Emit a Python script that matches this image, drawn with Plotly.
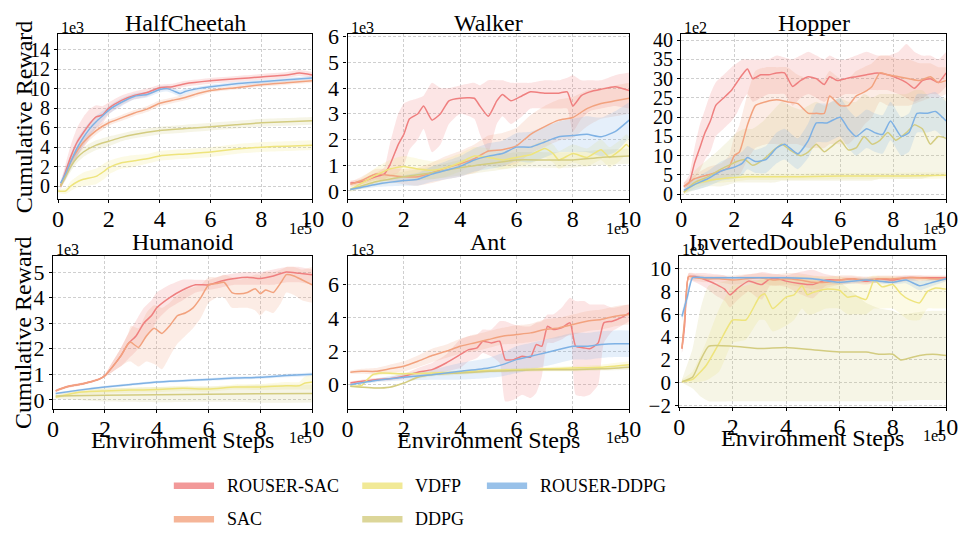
import plotly.graph_objects as go

W, H = 968, 537
FONT = "Liberation Serif"

METHODS = ["ROUSER-SAC", "SAC", "VDFP", "DDPG", "ROUSER-DDPG"]
LINE_COLORS = {"ROUSER-SAC": (239, 127, 127), "SAC": (242, 162, 126), "VDFP": (238, 228, 124),
               "DDPG": (211, 204, 128), "ROUSER-DDPG": (126, 177, 228)}

TITLES = ["HalfCheetah", "Walker", "Hopper", "Humanoid", "Ant", "InvertedDoublePendulum"]
Y_SCALE = ["1e3", "1e3", "1e2", "1e3", "1e3", "1e3"]
X_TICKS = [0, 2, 4, 6, 8, 10]
Y_TICKS = [[0, 2, 4, 6, 8, 10, 12, 14], [0, 1, 2, 3, 4, 5, 6], [0, 5, 10, 15, 20, 25, 30, 35, 40],
           [0, 1, 2, 3, 4, 5], [0, 2, 4, 6], [-2, 0, 2, 4, 6, 8, 10]]

# ---------------- HalfCheetah (x: 1e5 steps, y: 1e3) ----------------
hc_rsac_x = [0.1, 0.3, 0.5, 0.75, 1, 1.25, 1.5, 1.75, 2, 2.5, 3, 3.5, 4, 4.5, 5, 6, 7, 8, 9, 9.5, 10]
hc_rsac_y = [0, 1.5, 3.0, 4.5, 5.5, 6.4, 7.1, 7.3, 8.0, 8.8, 9.3, 9.6, 10.1, 10.2, 10.5, 10.8, 11.0, 11.2, 11.4, 11.6, 11.4]
hc_rsac_hw = [0.3, 0.8, 1.2, 1.5, 1.6, 1.5, 1.2, 0.9, 0.6, 0.5, 0.4, 0.4, 0.3, 0.3, 0.3, 0.3, 0.3, 0.3, 0.3, 0.3, 0.3]
hc_sac_x = [0.1, 0.3, 0.5, 0.75, 1, 1.5, 2, 2.5, 3, 3.5, 4, 4.5, 5, 5.5, 6, 7, 8, 9, 10]
hc_sac_y = [0, 1.2, 2.5, 3.6, 4.5, 5.7, 6.5, 7.0, 7.5, 7.9, 8.5, 8.8, 9.1, 9.5, 9.8, 10.1, 10.4, 10.6, 10.8]
hc_sac_hw = [0.3, 0.5, 0.5, 0.5, 0.4, 0.4, 0.3, 0.3, 0.3, 0.3, 0.3, 0.3, 0.3, 0.3, 0.2, 0.2, 0.2, 0.2, 0.2]
hc_vdfp_x = [0, 0.3, 0.5, 0.8, 1, 1.5, 1.8, 2, 2.5, 3, 3.5, 4, 5, 6, 7, 8, 9, 10]
hc_vdfp_y = [-0.5, -0.5, 0, 0.5, 0.7, 1.0, 1.5, 1.9, 2.4, 2.6, 2.8, 3.1, 3.3, 3.5, 3.8, 4.0, 4.1, 4.2]
hc_vdfp_hw = [0.2, 0.3, 0.5, 0.6, 0.7, 0.8, 0.8, 0.7, 0.6, 0.6, 0.5, 0.5, 0.5, 0.5, 0.5, 0.5, 0.5, 0.5]
hc_ddpg_x = [0.1, 0.3, 0.5, 0.75, 1, 1.5, 2, 2.5, 3, 4, 5, 6, 7, 8, 9, 10]
hc_ddpg_y = [0, 1.0, 2.0, 2.9, 3.5, 4.2, 4.6, 5.0, 5.3, 5.7, 5.9, 6.1, 6.3, 6.5, 6.6, 6.7]
hc_ddpg_hw = [0.2, 0.4, 0.5, 0.5, 0.5, 0.5, 0.5, 0.4, 0.4, 0.4, 0.4, 0.4, 0.4, 0.4, 0.4, 0.4]
hc_rddpg_x = [0.1, 0.3, 0.5, 0.75, 1, 1.25, 1.5, 1.75, 2, 2.5, 3, 3.5, 4, 4.3, 4.6, 4.8, 5, 5.5, 6, 7, 8, 9, 10]
hc_rddpg_y = [0.3, 1.3, 2.5, 3.9, 5.0, 5.9, 6.6, 7.2, 7.8, 8.6, 9.2, 9.4, 9.9, 10.0, 9.7, 9.5, 9.7, 10.0, 10.2, 10.5, 10.7, 10.9, 11.1]
hc_rddpg_hw = [0.3, 0.6, 0.8, 0.9, 0.8, 0.7, 0.6, 0.5, 0.4, 0.4, 0.3, 0.3, 0.3, 0.3, 0.3, 0.3, 0.3, 0.2, 0.2, 0.2, 0.2, 0.2, 0.2]

# ---------------- Walker (y: 1e3) ----------------
wk_rsac_x = [0.1, 0.5, 1, 1.3, 1.5, 1.8, 2, 2.2, 2.5, 2.7, 3, 3.3, 3.6, 4, 4.5, 4.7, 5, 5.3, 5.5, 5.8, 6.2, 6.5, 7, 7.5, 7.8, 8, 8.3, 8.6, 9, 9.5, 10]
wk_rsac_y = [0.3, 0.35, 0.55, 0.65, 1.0, 1.8, 2.2, 2.8, 3.0, 3.3, 2.75, 3.0, 3.5, 3.6, 3.6, 3.3, 2.9, 3.5, 3.75, 3.5, 3.7, 3.85, 3.8, 3.8, 3.85, 3.3, 3.7, 3.85, 3.95, 4.05, 3.9]
wk_rsac_lo = [0.2, 0.25, 0.4, 0.45, 0.55, 0.7, 1.0, 1.6, 2.0, 2.4, 1.5, 1.8, 2.6, 3.0, 2.8, 2.2, 1.5, 2.6, 2.9, 2.6, 2.9, 3.2, 3.2, 3.2, 3.2, 2.3, 2.8, 3.1, 3.2, 3.3, 3.2]
wk_rsac_hi = [0.4, 0.45, 0.7, 0.9, 1.8, 3.0, 3.4, 3.5, 3.6, 3.7, 4.2, 4.0, 4.0, 4.1, 4.2, 4.1, 4.3, 4.3, 4.3, 4.2, 4.2, 4.2, 4.3, 4.3, 4.4, 4.5, 4.3, 4.3, 4.3, 4.5, 4.6]
wk_sac_x = [0.1, 0.5, 1, 1.5, 2, 2.5, 3, 3.5, 4, 4.5, 5, 5.5, 6, 6.5, 7, 7.5, 8, 8.5, 9, 9.5, 10]
wk_sac_y = [0.25, 0.4, 0.65, 0.6, 0.55, 0.55, 0.7, 0.9, 1.05, 1.25, 1.55, 1.6, 1.75, 2.2, 2.5, 2.75, 2.85, 3.2, 3.4, 3.5, 3.6]
wk_sac_hw = [0.1, 0.15, 0.2, 0.25, 0.3, 0.35, 0.4, 0.45, 0.5, 0.55, 0.6, 0.65, 0.7, 0.75, 0.8, 0.8, 0.8, 0.7, 0.6, 0.6, 0.6]
wk_vdfp_x = [0.1, 0.5, 1, 1.5, 2, 2.5, 3, 3.5, 4, 4.5, 5, 5.5, 6, 6.5, 7, 7.3, 7.5, 8, 8.5, 9, 9.3, 9.7, 9.9, 10]
wk_vdfp_y = [0.05, 0.3, 0.6, 0.85, 0.95, 0.85, 0.8, 0.9, 1.1, 1.35, 1.3, 1.2, 1.3, 1.4, 1.65, 1.45, 1.2, 1.45, 1.3, 1.6, 1.3, 1.6, 1.8, 1.7]
wk_vdfp_hw = [0.1, 0.2, 0.3, 0.35, 0.4, 0.4, 0.35, 0.35, 0.35, 0.35, 0.35, 0.35, 0.35, 0.35, 0.35, 0.35, 0.35, 0.35, 0.35, 0.4, 0.4, 0.4, 0.4, 0.4]
wk_ddpg_x = [0.1, 1, 2, 3, 4, 5, 6, 7, 8, 9, 10]
wk_ddpg_y = [0.05, 0.35, 0.55, 0.7, 0.9, 1.05, 1.2, 1.2, 1.2, 1.3, 1.35]
wk_ddpg_hw = [0.05, 0.15, 0.2, 0.25, 0.3, 0.3, 0.3, 0.3, 0.3, 0.3, 0.3]
wk_rddpg_x = [0.1, 1, 2, 2.5, 3, 3.5, 4, 4.5, 5, 5.5, 6, 6.5, 7, 7.5, 8, 8.5, 9, 9.5, 10]
wk_rddpg_y = [0.05, 0.25, 0.4, 0.45, 0.65, 0.8, 0.95, 1.2, 1.35, 1.45, 1.7, 1.7, 1.9, 2.1, 2.15, 2.2, 2.1, 2.3, 2.75]
wk_rddpg_hw = [0.05, 0.1, 0.2, 0.25, 0.3, 0.35, 0.4, 0.45, 0.5, 0.5, 0.55, 0.6, 0.6, 0.6, 0.65, 0.7, 0.75, 0.8, 0.7]

# ---------------- Hopper (y: 1e2) ----------------
hp_rsac_x = [0.1, 0.3, 0.5, 0.7, 0.9, 1.1, 1.3, 1.6, 1.9, 2.1, 2.3, 2.5, 2.7, 3.0, 3.3, 3.6, 3.9, 4.2, 4.5, 4.8, 5.1, 5.4, 5.6, 5.9, 6.2, 6.6, 7, 7.4, 7.8, 8.2, 8.5, 8.8, 9.1, 9.4, 9.7, 10]
hp_rsac_y = [2, 3, 8, 12, 16, 19, 23, 25, 27, 29, 31, 32.5, 30, 31, 31, 31.5, 31.5, 28, 29.5, 30.5, 30, 28.5, 30.5, 29.5, 30, 30.5, 31, 31.5, 31, 30, 29, 27.5, 29.5, 30, 29, 31.5]
hp_rsac_lo = [1.5, 2, 4, 6, 9, 11, 15, 17, 19, 21, 24, 26, 24, 25, 26, 26, 26, 23, 25, 26, 25, 24, 25, 25, 26, 26, 27, 27, 27, 26, 25, 24, 25, 26, 26, 28]
hp_rsac_hi = [3, 5, 12, 18, 22, 26, 29, 31, 33, 34, 35, 35, 35, 35, 35, 36, 35.5, 35, 36, 37, 36, 35, 36, 35, 35, 36, 37, 36, 36, 37, 39, 37, 36, 36, 35, 37]
hp_sac_x = [0.1, 0.5, 1, 1.5, 1.8, 2, 2.2, 2.5, 2.8, 3.2, 3.6, 4, 4.4, 4.8, 5.1, 5.4, 5.6, 6, 6.3, 6.6, 6.9, 7.2, 7.5, 7.8, 8.2, 8.6, 9, 9.4, 9.7, 10]
hp_sac_y = [2, 4, 5, 6, 7, 10, 11, 18, 23, 24, 24.5, 24, 23.5, 21, 21, 21, 25.5, 23, 23, 25.5, 26.5, 28, 31.5, 31, 30.5, 30, 29.5, 30.5, 29, 29.5]
hp_sac_lo = [1.5, 2.5, 3, 4, 4, 5, 5, 9, 12, 13, 13, 13, 13, 12, 12, 12, 13, 13, 13, 15, 18, 20, 24, 23, 23, 23, 24, 25, 25, 26]
hp_sac_hi = [3, 5, 7, 8, 10, 15, 18, 26, 32, 33, 33, 33, 31, 30, 30, 30, 32, 30, 30, 32, 33, 34, 36, 36, 35, 35, 34, 34, 33, 33]
hp_vdfp_x = [0.1, 0.5, 1, 1.5, 2, 2.5, 3, 4, 5, 6, 7, 8, 9, 10]
hp_vdfp_y = [0.5, 2.5, 3.5, 4, 4.3, 4.5, 4.5, 4.5, 4.6, 4.7, 4.7, 4.7, 4.8, 4.9]
hp_vdfp_hw = [0.5, 1, 1, 1, 1, 0.8, 0.8, 0.8, 0.8, 0.8, 0.8, 0.8, 0.8, 0.8]
hp_ddpg_x = [0.1, 0.5, 1, 1.5, 1.8, 2.1, 2.4, 2.7, 3.1, 3.5, 3.8, 4.1, 4.5, 4.8, 5.1, 5.4, 5.7, 6, 6.3, 6.6, 6.9, 7.2, 7.5, 7.8, 8.1, 8.5, 8.8, 9.1, 9.4, 9.7, 10]
hp_ddpg_y = [0.5, 3, 4.5, 6.5, 7.5, 8.5, 9, 7.5, 9, 11.5, 13, 11.5, 10, 11, 13, 11, 12.5, 14, 11.5, 12, 15, 13, 14, 16, 14, 16, 18, 17, 13, 15, 14.5]
hp_ddpg_lo = [0, 1, 2, 2, 2.5, 3, 3, 3, 3, 3, 3.5, 3.5, 3.5, 3.5, 3.5, 3.5, 3.5, 3.5, 3.5, 3.5, 3.5, 3.5, 4, 4, 4, 4, 4, 4, 4.5, 5, 5]
hp_ddpg_hi = [1, 6, 9, 12, 14, 16, 17, 17, 19, 22, 24, 23, 22, 23, 24, 23, 24, 25, 24, 24, 26, 25, 26, 26, 26, 26, 27, 27, 25, 25, 25]
hp_rddpg_x = [0.1, 0.5, 1, 1.5, 2, 2.3, 2.5, 2.8, 3.2, 3.6, 3.9, 4.4, 4.8, 5.1, 5.5, 6, 6.3, 6.6, 7, 7.3, 7.6, 7.9, 8.3, 8.6, 8.9, 9.3, 9.6, 10]
hp_rddpg_y = [1, 2.5, 4, 6, 7, 8, 9.5, 8.5, 9, 12, 13, 10.5, 14, 18.5, 18.5, 20, 17, 15, 17, 16, 15.5, 19, 15, 16, 21, 21, 21.5, 19]
hp_rddpg_hw = [0.5, 1.5, 2, 2.5, 3, 3, 3, 3, 3.5, 4, 4, 4, 4.5, 5, 5, 5, 5, 5, 5, 5, 5, 5, 5, 5, 5, 5, 5, 5]

# ---------------- Humanoid (y: 1e3) ----------------
hu_rsac_x = [0.1, 0.5, 1, 1.5, 1.8, 2, 2.3, 2.6, 2.9, 3.2, 3.5, 3.8, 4, 4.5, 5, 5.5, 6, 6.5, 7, 7.5, 8, 8.5, 9, 9.5, 10]
hu_rsac_y = [0.35, 0.5, 0.6, 0.72, 0.82, 0.95, 1.3, 1.7, 2.2, 2.5, 3.0, 3.3, 3.6, 4.0, 4.3, 4.5, 4.5, 4.65, 4.75, 4.8, 4.75, 4.85, 5.0, 4.95, 4.9]
hu_rsac_lo = [0.3, 0.45, 0.55, 0.68, 0.78, 0.9, 1.1, 1.3, 1.6, 1.9, 2.3, 2.7, 3.1, 3.6, 3.9, 4.2, 4.3, 4.4, 4.5, 4.5, 4.5, 4.5, 4.6, 4.6, 4.5]
hu_rsac_hi = [0.4, 0.55, 0.65, 0.76, 0.86, 1.0, 1.5, 2.0, 2.6, 3.1, 3.6, 3.9, 4.2, 4.5, 4.7, 4.7, 4.7, 4.85, 4.95, 5.0, 5.0, 5.1, 5.2, 5.2, 5.1]
hu_sac_x = [0.1, 0.5, 1, 1.5, 1.8, 2, 2.3, 2.6, 2.9, 3.0, 3.3, 3.6, 3.9, 4.2, 4.5, 4.8, 5.1, 5.4, 5.7, 6, 6.3, 6.6, 6.9, 7.2, 7.5, 7.8, 8, 8.2, 8.5, 8.8, 9, 9.3, 9.6, 10]
hu_sac_y = [0.35, 0.5, 0.6, 0.72, 0.82, 0.95, 1.3, 1.7, 2.2, 2.25, 2.05, 2.5, 2.8, 2.6, 2.9, 3.3, 3.4, 3.6, 4.0, 4.5, 4.55, 4.6, 4.2, 4.15, 4.2, 4.35, 4.15, 4.3, 4.2, 4.6, 4.9, 4.85, 4.7, 4.5]
hu_sac_lo = [0.3, 0.45, 0.55, 0.68, 0.78, 0.9, 1.1, 1.3, 1.5, 1.5, 1.3, 1.5, 1.4, 1.2, 1.7, 2.2, 2.5, 2.8, 3.2, 3.8, 4.0, 4.0, 3.6, 3.6, 3.6, 3.5, 3.3, 3.5, 3.4, 3.8, 4.2, 4.1, 3.9, 3.8]
hu_sac_hi = [0.4, 0.55, 0.65, 0.76, 0.86, 1.0, 1.5, 2.0, 2.6, 2.9, 2.8, 3.4, 3.7, 3.6, 3.8, 4.1, 4.3, 4.4, 4.5, 4.8, 4.8, 4.9, 4.8, 4.7, 4.8, 4.9, 4.9, 5.0, 5.0, 5.1, 5.2, 5.2, 5.1, 5.2]
hu_vdfp_x = [0.1, 1, 2, 3, 4, 5, 6, 7, 8, 9, 9.5, 9.7, 10]
hu_vdfp_y = [0.1, 0.3, 0.35, 0.38, 0.4, 0.45, 0.42, 0.5, 0.5, 0.55, 0.55, 0.65, 0.7]
hu_vdfp_hw = [0.05, 0.1, 0.1, 0.1, 0.1, 0.1, 0.1, 0.1, 0.12, 0.15, 0.15, 0.25, 0.3]
hu_ddpg_x = [0.1, 2, 4, 6, 8, 10]
hu_ddpg_y = [0.15, 0.18, 0.2, 0.22, 0.24, 0.25]
hu_ddpg_hw = [0.1, 0.25, 0.3, 0.3, 0.35, 0.35]
hu_rddpg_x = [0.1, 1, 2, 3, 4, 5, 6, 7, 8, 9, 10]
hu_rddpg_y = [0.25, 0.38, 0.5, 0.6, 0.7, 0.75, 0.8, 0.85, 0.88, 0.95, 1.0]
hu_rddpg_hw = [0.03, 0.04, 0.05, 0.05, 0.05, 0.05, 0.05, 0.06, 0.06, 0.07, 0.07]

# ---------------- Ant (y: 1e3) ----------------
an_rsac_x = [0.1, 0.5, 1, 1.5, 2, 2.5, 3, 3.5, 4, 4.3, 4.6, 4.8, 5.1, 5.4, 5.6, 5.9, 6.2, 6.5, 6.7, 6.9, 7.1, 7.3, 7.6, 7.9, 8.1, 8.4, 8.6, 8.9, 9.1, 9.4, 9.7, 10]
an_rsac_y = [0.1, 0.2, 0.3, 0.35, 0.5, 0.75, 0.9, 1.3, 1.8, 2.1, 2.2, 2.6, 2.5, 2.6, 1.5, 1.5, 1.7, 1.65, 2.4, 2.3, 3.5, 3.3, 3.4, 3.7, 2.3, 2.2, 2.15, 2.5, 3.7, 3.8, 4.0, 4.3]
an_rsac_lo = [0.0, 0.1, 0.2, 0.25, 0.35, 0.5, 0.6, 0.8, 1.0, 1.4, 1.6, 1.9, 1.7, 1.3, -1.0, -0.9, -0.6, -0.8, -0.5, 0.5, 2.5, 2.5, 2.7, 3.0, -0.6, -0.7, -0.6, 0.0, 2.5, 3.2, 3.5, 3.8]
an_rsac_hi = [0.2, 0.3, 0.4, 0.45, 0.65, 1.0, 1.3, 1.8, 2.7, 2.9, 3.0, 3.3, 3.3, 3.8, 3.8, 3.6, 3.5, 3.5, 3.7, 3.8, 4.2, 4.2, 4.6, 5.2, 5.0, 5.0, 4.8, 4.8, 4.8, 4.6, 4.7, 4.8]
an_sac_x = [0.1, 0.5, 1, 1.5, 2, 2.5, 3, 3.5, 4, 4.5, 5, 5.5, 6, 6.5, 7, 7.5, 8, 8.5, 9, 9.5, 10]
an_sac_y = [0.75, 0.8, 0.8, 0.95, 1.1, 1.4, 1.75, 2.0, 2.3, 2.5, 2.7, 2.9, 3.0, 3.1, 3.3, 3.4, 3.6, 3.8, 3.9, 4.1, 4.2]
an_sac_hw = [0.1, 0.15, 0.2, 0.25, 0.3, 0.35, 0.4, 0.4, 0.45, 0.5, 0.5, 0.5, 0.55, 0.55, 0.6, 0.6, 0.6, 0.6, 0.6, 0.6, 0.6]
an_vdfp_x = [0.1, 0.5, 0.7, 0.9, 1.2, 2, 3, 4, 5, 6, 7, 8, 9, 10]
an_vdfp_y = [-0.1, -0.05, 0.3, 0.6, 0.7, 0.65, 0.7, 0.75, 0.85, 0.9, 0.95, 1.0, 1.05, 1.2]
an_vdfp_hw = [0.05, 0.05, 0.1, 0.1, 0.1, 0.1, 0.1, 0.1, 0.1, 0.1, 0.1, 0.12, 0.15, 0.2]
an_ddpg_x = [0.1, 0.5, 1, 1.5, 2, 2.5, 3, 4, 5, 6, 7, 8, 9, 10]
an_ddpg_y = [-0.1, -0.15, -0.2, -0.15, 0.1, 0.45, 0.6, 0.7, 0.8, 0.85, 0.9, 0.9, 0.95, 1.05]
an_ddpg_hw = [0.05, 0.05, 0.05, 0.05, 0.05, 0.1, 0.1, 0.1, 0.1, 0.1, 0.1, 0.1, 0.1, 0.15]
an_rddpg_x = [0.1, 1, 2, 3, 4, 5, 5.5, 6, 6.5, 7, 7.5, 8, 8.5, 9, 9.5, 10]
an_rddpg_y = [0.0, 0.25, 0.45, 0.6, 0.8, 1.0, 1.2, 1.5, 1.7, 1.9, 2.1, 2.3, 2.3, 2.4, 2.45, 2.45]
an_rddpg_hw = [0.05, 0.1, 0.2, 0.3, 0.5, 0.6, 0.7, 0.8, 0.8, 0.8, 0.8, 0.8, 0.8, 0.8, 0.8, 0.8]

# ---------------- InvertedDoublePendulum (y: 1e3) ----------------
ip_rsac_x = [0.1, 0.2, 0.35, 0.6, 1, 1.4, 1.7, 1.9, 2.2, 2.6, 2.9, 3.1, 3.4, 3.7, 4, 4.5, 5, 5.5, 6, 6.5, 7, 7.5, 8, 8.5, 9, 9.5, 10]
ip_rsac_y = [3.0, 5.0, 9.3, 9.3, 9.0, 8.6, 8.2, 7.7, 8.3, 8.9, 8.7, 8.6, 9.1, 9.1, 8.9, 8.7, 8.6, 9.0, 9.0, 9.1, 8.9, 9.1, 9.0, 9.2, 9.2, 9.2, 9.2]
ip_rsac_lo = [2.6, 4.0, 9.0, 8.8, 8.3, 7.6, 7.2, 6.6, 7.3, 8.0, 7.5, 7.3, 8.5, 8.5, 8.4, 7.8, 7.4, 8.5, 8.6, 8.7, 8.6, 8.8, 8.7, 8.9, 8.9, 9.0, 9.0]
ip_rsac_hi = [3.4, 6.0, 9.6, 9.6, 9.6, 9.5, 9.4, 9.2, 9.3, 9.5, 9.6, 9.7, 9.6, 9.5, 9.4, 9.7, 9.9, 9.5, 9.3, 9.3, 9.2, 9.3, 9.3, 9.4, 9.4, 9.4, 9.4]
ip_sac_x = [0.1, 0.2, 0.35, 0.6, 1, 1.5, 2, 2.5, 3, 3.5, 4, 4.5, 5, 5.5, 6, 6.5, 7, 7.5, 8, 8.5, 9, 9.5, 10]
ip_sac_y = [3.0, 5.5, 9.3, 9.2, 9.1, 9.1, 9.0, 9.1, 9.2, 9.0, 9.1, 9.0, 8.8, 8.8, 9.0, 9.1, 9.0, 9.1, 9.1, 9.2, 9.2, 9.1, 9.1]
ip_sac_hw = [0.4, 0.8, 0.3, 0.3, 0.3, 0.3, 0.4, 0.4, 0.4, 0.5, 0.5, 0.6, 0.6, 0.5, 0.4, 0.3, 0.3, 0.3, 0.3, 0.2, 0.2, 0.2, 0.2]
ip_vdfp_x = [0.1, 0.5, 1, 1.5, 2, 2.5, 3, 3.2, 3.5, 4, 4.3, 4.6, 4.8, 5, 5.5, 6, 6.3, 6.6, 7, 7.3, 7.6, 8, 8.3, 8.6, 9, 9.3, 9.6, 10]
ip_vdfp_y = [0.1, 0.3, 1.5, 3.5, 5.5, 5.5, 7.5, 7.8, 6.5, 7.5, 7.7, 8.5, 7.7, 7.9, 8.2, 8.1, 7.5, 7.6, 7.3, 9.0, 8.4, 8.6, 7.8, 7.3, 7.0, 8.0, 8.3, 8.2]
ip_vdfp_lo = [0.0, 0.0, 0.2, 1.0, 3.5, 3.8, 5.5, 5.5, 4.5, 5.0, 5.5, 6.5, 6.0, 6.0, 6.5, 6.5, 6.0, 6.0, 6.0, 6.5, 6.5, 6.5, 6.0, 5.5, 5.5, 6.5, 6.5, 6.5]
ip_vdfp_hi = [0.3, 1.0, 3.5, 6.5, 8.5, 8.5, 9.0, 9.2, 9.0, 9.2, 9.3, 9.4, 9.3, 9.3, 9.3, 9.3, 9.2, 9.2, 9.2, 9.4, 9.3, 9.3, 9.2, 9.2, 9.2, 9.3, 9.3, 9.3]
ip_ddpg_x = [0.1, 0.5, 0.8, 1.1, 2, 3, 4, 5, 6, 7, 7.5, 8, 8.3, 9, 9.5, 10]
ip_ddpg_y = [0.1, 0.5, 2.0, 3.2, 3.2, 3.0, 3.1, 2.9, 2.7, 2.7, 2.5, 2.5, 2.0, 2.4, 2.5, 2.4]
ip_ddpg_lo = [0.0, -0.5, -1.2, -1.6, -1.6, -1.6, -1.6, -1.6, -1.6, -1.6, -1.6, -1.6, -1.6, -1.5, -1.5, -1.5]
ip_ddpg_hi = [0.3, 3.0, 6.5, 8.5, 9.0, 9.0, 9.2, 9.0, 8.8, 7.0, 6.5, 6.3, 6.0, 6.2, 6.3, 6.3]
ip_rddpg_x = [0.1, 0.3, 0.5, 1, 2, 3, 4, 5, 6, 7, 7.5, 8, 8.5, 9, 9.5, 10]
ip_rddpg_y = [5.8, 7.5, 9.2, 9.2, 9.2, 9.2, 9.2, 9.1, 8.8, 9.0, 8.9, 8.8, 9.0, 8.5, 8.8, 9.1]
ip_rddpg_hw = [0.4, 0.6, 0.2, 0.1, 0.1, 0.1, 0.1, 0.1, 0.2, 0.2, 0.2, 0.2, 0.3, 0.4, 0.3, 0.2]


def band(y, hw=None, lo=None, hi=None):
    if hw is not None:
        return [a - b for a, b in zip(y, hw)], [a + b for a, b in zip(y, hw)]
    return lo, hi


PANELS = [
    {"ROUSER-SAC": (hc_rsac_x, hc_rsac_y, *band(hc_rsac_y, hc_rsac_hw)),
     "SAC": (hc_sac_x, hc_sac_y, *band(hc_sac_y, hc_sac_hw)),
     "VDFP": (hc_vdfp_x, hc_vdfp_y, *band(hc_vdfp_y, hc_vdfp_hw)),
     "DDPG": (hc_ddpg_x, hc_ddpg_y, *band(hc_ddpg_y, hc_ddpg_hw)),
     "ROUSER-DDPG": (hc_rddpg_x, hc_rddpg_y, *band(hc_rddpg_y, hc_rddpg_hw))},
    {"ROUSER-SAC": (wk_rsac_x, wk_rsac_y, wk_rsac_lo, wk_rsac_hi),
     "SAC": (wk_sac_x, wk_sac_y, *band(wk_sac_y, wk_sac_hw)),
     "VDFP": (wk_vdfp_x, wk_vdfp_y, *band(wk_vdfp_y, wk_vdfp_hw)),
     "DDPG": (wk_ddpg_x, wk_ddpg_y, *band(wk_ddpg_y, wk_ddpg_hw)),
     "ROUSER-DDPG": (wk_rddpg_x, wk_rddpg_y, *band(wk_rddpg_y, wk_rddpg_hw))},
    {"ROUSER-SAC": (hp_rsac_x, hp_rsac_y, hp_rsac_lo, hp_rsac_hi),
     "SAC": (hp_sac_x, hp_sac_y, hp_sac_lo, hp_sac_hi),
     "VDFP": (hp_vdfp_x, hp_vdfp_y, *band(hp_vdfp_y, hp_vdfp_hw)),
     "DDPG": (hp_ddpg_x, hp_ddpg_y, hp_ddpg_lo, hp_ddpg_hi),
     "ROUSER-DDPG": (hp_rddpg_x, hp_rddpg_y, *band(hp_rddpg_y, hp_rddpg_hw))},
    {"ROUSER-SAC": (hu_rsac_x, hu_rsac_y, hu_rsac_lo, hu_rsac_hi),
     "SAC": (hu_sac_x, hu_sac_y, hu_sac_lo, hu_sac_hi),
     "VDFP": (hu_vdfp_x, hu_vdfp_y, *band(hu_vdfp_y, hu_vdfp_hw)),
     "DDPG": (hu_ddpg_x, hu_ddpg_y, *band(hu_ddpg_y, hu_ddpg_hw)),
     "ROUSER-DDPG": (hu_rddpg_x, hu_rddpg_y, *band(hu_rddpg_y, hu_rddpg_hw))},
    {"ROUSER-SAC": (an_rsac_x, an_rsac_y, an_rsac_lo, an_rsac_hi),
     "SAC": (an_sac_x, an_sac_y, *band(an_sac_y, an_sac_hw)),
     "VDFP": (an_vdfp_x, an_vdfp_y, *band(an_vdfp_y, an_vdfp_hw)),
     "DDPG": (an_ddpg_x, an_ddpg_y, *band(an_ddpg_y, an_ddpg_hw)),
     "ROUSER-DDPG": (an_rddpg_x, an_rddpg_y, *band(an_rddpg_y, an_rddpg_hw))},
    {"ROUSER-SAC": (ip_rsac_x, ip_rsac_y, ip_rsac_lo, ip_rsac_hi),
     "SAC": (ip_sac_x, ip_sac_y, *band(ip_sac_y, ip_sac_hw)),
     "VDFP": (ip_vdfp_x, ip_vdfp_y, ip_vdfp_lo, ip_vdfp_hi),
     "DDPG": (ip_ddpg_x, ip_ddpg_y, ip_ddpg_lo, ip_ddpg_hi),
     "ROUSER-DDPG": (ip_rddpg_x, ip_rddpg_y, *band(ip_rddpg_y, ip_rddpg_hw))},
]

# layout geometry (pixels)
X_DOM = [(53, 312), (348, 635), (688, 958), (48, 312), (348, 635), (686, 958)]
Y_DOM = [(25, 197), (25, 197), (25, 197), (256, 415), (256, 415), (256, 413)]
Y_RANGE = [(-1.35, 15.6), (-0.33, 6.1), (-1.33, 41.6), (-0.35, 5.63), (-1.44, 7.7), (-2.1, 11.1)]
Y_TICKFONT = [20, 22, 20, 22, 22, 21]
TITLE_BOTTOM = [4, 4, 4, 1, 1, 1]   # title box bottom offset from plot top (px)

# legend placement (pixels): swatch start x, row y
LEGEND_POS = {"ROUSER-SAC": (171, 495), "SAC": (171, 530), "VDFP": (363, 495),
              "DDPG": (363, 530), "ROUSER-DDPG": (490, 495)}


def rgba(c, a):
    return f"rgba({c[0]},{c[1]},{c[2]},{a})"


fig = go.Figure()
for i, panel in enumerate(PANELS):
    ax = "" if i == 0 else str(i + 1)
    for m in METHODS:
        x, y, lo, hi = panel[m]
        c = LINE_COLORS[m]
        fig.add_trace(go.Scatter(x=x, y=hi, mode="lines", line=dict(width=0, shape="spline", smoothing=0.5),
                                 showlegend=False, hoverinfo="skip", xaxis="x" + ax, yaxis="y" + ax))
        fig.add_trace(go.Scatter(x=x, y=lo, mode="lines", line=dict(width=0, shape="spline", smoothing=0.5),
                                 fill="tonexty", fillcolor=rgba(c, 0.2),
                                 showlegend=False, hoverinfo="skip", xaxis="x" + ax, yaxis="y" + ax))
    for m in METHODS:
        x, y, lo, hi = panel[m]
        fig.add_trace(go.Scatter(x=x, y=y, mode="lines", name=m,
                                 line=dict(color=rgba(LINE_COLORS[m], 1), width=1.5, shape="spline", smoothing=0.5),
                                 showlegend=False, xaxis="x" + ax, yaxis="y" + ax))

layout = dict(width=W, height=H, margin=dict(l=0, r=0, t=0, b=0), showlegend=False,
              paper_bgcolor="white", plot_bgcolor="white",
              font=dict(family=FONT, color="black"), annotations=[], shapes=[])

# legend: thick swatches + labels, column-major as in the reference
for m in METHODS:
    px, py = LEGEND_POS[m]
    layout["shapes"].append(dict(type="line", xref="paper", yref="paper",
                                 x0=px / W, x1=(px + 41) / W, y0=1 - py / H, y1=1 - py / H,
                                 line=dict(color=rgba(LINE_COLORS[m], 0.8), width=6.5)))
    layout["annotations"].append(dict(text=m, x=(px + 52) / W, y=1 - py / H, xref="paper", yref="paper",
                                      xanchor="left", yanchor="middle", showarrow=False,
                                      font=dict(family=FONT, size=18)))

for i in range(6):
    ax = "" if i == 0 else str(i + 1)
    x0, x1 = X_DOM[i]
    y0, y1 = Y_DOM[i]
    common = dict(showline=True, linecolor="black", linewidth=1.2, mirror=True,
                  showgrid=True, gridcolor="#cfcfcf", gridwidth=0.8, griddash="3px,2px",
                  zeroline=False, ticks="outside", ticklen=3, tickcolor="black")
    layout["xaxis" + ax] = dict(domain=[x0 / W, x1 / W], anchor="y" + ax, range=[0, 10],
                                tickvals=X_TICKS, tickfont=dict(family=FONT, size=24),
                                ticklabelstandoff=-5, **common)
    layout["yaxis" + ax] = dict(domain=[1 - y1 / H, 1 - y0 / H], anchor="x" + ax, range=list(Y_RANGE[i]),
                                tickvals=Y_TICKS[i], tickfont=dict(family=FONT, size=Y_TICKFONT[i]), **common)
    cx = (x0 + x1) / 2
    layout["annotations"].append(dict(text=TITLES[i], x=cx / W, y=1 - (y0 + TITLE_BOTTOM[i]) / H,
                                      xref="paper", yref="paper",
                                      xanchor="center", yanchor="bottom", showarrow=False,
                                      font=dict(family=FONT, size=24)))
    layout["annotations"].append(dict(text=Y_SCALE[i], x=(x0 + 1) / W, y=1 - (y0 + 4) / H, xref="paper", yref="paper",
                                      xanchor="left", yanchor="bottom", showarrow=False,
                                      font=dict(family=FONT, size=16)))
    layout["annotations"].append(dict(text="1e5", x=(x1 + 2) / W, y=1 - (y1 + 19) / H, xref="paper", yref="paper",
                                      xanchor="right", yanchor="top", showarrow=False,
                                      font=dict(family=FONT, size=16)))
    if i >= 3:
        layout["annotations"].append(dict(text="Environment Steps", x=cx / W, y=1 - (y1 + 32) / H,
                                          xref="paper", yref="paper", xanchor="center", yanchor="middle",
                                          showarrow=False, font=dict(family=FONT, size=24)))
    if i in (0, 3):
        layout["annotations"].append(dict(text="Cumulative Reward", x=18 / W, y=1 - ((y0 + y1) / 2) / H,
                                          xref="paper", yref="paper", xanchor="center", yanchor="middle",
                                          textangle=-90, showarrow=False, font=dict(family=FONT, size=24)))

fig.update_layout(**layout)
fig.write_html("out.html")
